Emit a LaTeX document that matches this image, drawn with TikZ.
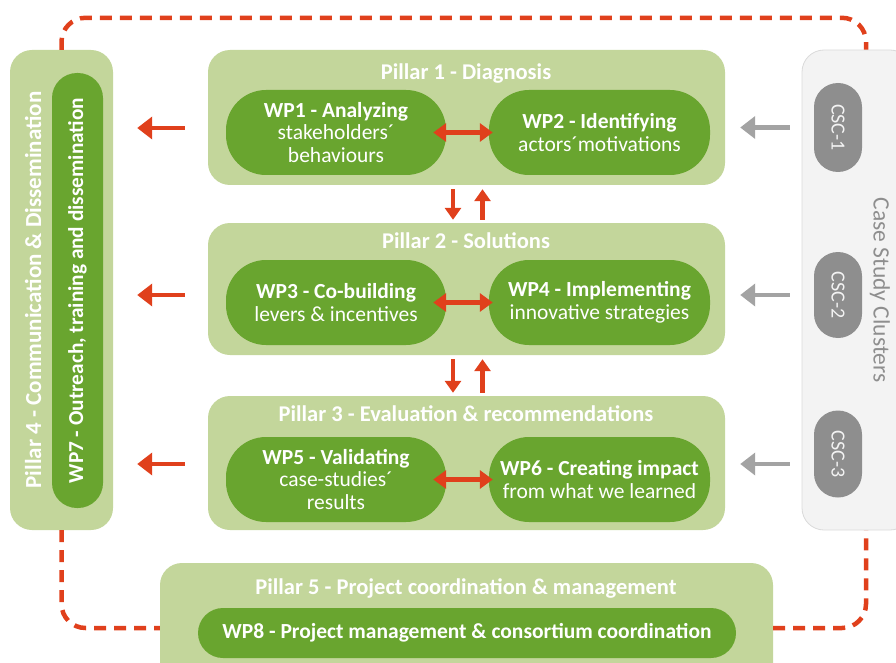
\documentclass[tikz,border=0pt]{standalone}
\usepackage{fontspec}
\setmainfont{Carlito}
\usetikzlibrary{arrows.meta,calc}

\definecolor{pillargreen}{HTML}{C3D69B}
\definecolor{wpgreen}{HTML}{69A52F}
\definecolor{linkred}{HTML}{E0401C}
\definecolor{cscgray}{HTML}{8E8E8E}
\definecolor{panelgray}{HTML}{F3F3F3}
\definecolor{panelline}{HTML}{DADADA}
\definecolor{arrowgray}{HTML}{A3A3A3}

\tikzset{
  pillarbox/.style={fill=pillargreen, rounded corners=22pt, inner sep=0pt},
  wpbox/.style={fill=wpgreen, rounded corners=40pt, inner sep=0pt, text=white,
    align=center, font=\fontsize{21.5}{22.8}\selectfont},
  wpslim/.style={fill=wpgreen, rounded corners=25pt, inner sep=0pt},
  pillartitle/.style={text=white, font=\bfseries\fontsize{22.5}{24}\selectfont, inner sep=0pt},
  cscpill/.style={fill=cscgray, rounded corners=24pt, minimum width=48pt, inner sep=0pt,
    text=panelgray, font=\fontsize{20}{22}\selectfont},
  redlink/.style={draw=linkred, line width=4.5pt, -{Triangle[length=15pt,width=22pt]}},
  redboth/.style={draw=linkred, line width=4.5pt,
    {Triangle[length=13pt,width=18pt]}-{Triangle[length=13pt,width=18pt]}},
  redvert/.style={draw=linkred, line width=4.5pt, -{Triangle[length=12pt,width=16pt]}},
  graylink/.style={draw=arrowgray, line width=4.5pt, -{Triangle[length=15pt,width=22pt]}},
  loopline/.style={draw=linkred, line width=4.5pt, dash pattern=on 12pt off 8pt,
    rounded corners=24pt},
}

\begin{document}
\begin{tikzpicture}[x=1pt,y=-1pt]
\useasboundingbox (0,0) rectangle (896,663);
\clip (0,0) rectangle (896,663);

% Pillar 4: communication column on the left
\node[pillarbox, minimum width=103pt, minimum height=480pt] (p4) at (61.5,290) {};
\node[wpslim, minimum width=51pt, minimum height=435pt] (wp7) at (77.5,290.5) {};
\node[pillartitle, rotate=90, font=\bfseries\fontsize{23}{24}\selectfont] (p4t) at (33,290)
  {Pillar 4 - Communication \& Dissemination};
\node[text=white, rotate=90, inner sep=0pt, font=\bfseries\fontsize{21.3}{22}\selectfont] (wp7t) at (wp7)
  {WP7 - Outreach, training and dissemination};

% Pillar 1
\node[pillarbox, minimum width=517pt, minimum height=135pt] (p1) at (466.5,117.5) {};
\node[pillartitle] (p1t) at (466,74) {Pillar 1 - Diagnosis};
\node[wpbox, minimum width=220pt, minimum height=85pt] (wp1) at (336,132.5)
  {\textbf{WP1 - Analyzing}\\stakeholders´\\behaviours};
\node[wpbox, minimum width=221pt, minimum height=85pt] (wp2) at (599.5,132.5)
  {\textbf{WP2 - Identifying}\\actors´motivations};

% Pillar 2
\node[pillarbox, minimum width=517pt, minimum height=132pt] (p2) at (466.5,289) {};
\node[pillartitle] (p2t) at (466,241) {Pillar 2 - Solutions};
\node[wpbox, minimum width=220pt, minimum height=85pt] (wp3) at (336,302.5)
  {\textbf{WP3 - Co-building}\\levers \& incentives};
\node[wpbox, minimum width=221pt, minimum height=85pt] (wp4) at (599.5,302.5)
  {\textbf{WP4 - Implementing}\\innovative strategies};

% Pillar 3
\node[pillarbox, minimum width=517pt, minimum height=134pt] (p3) at (466.5,463) {};
\node[pillartitle] (p3t) at (466,414) {Pillar 3 - Evaluation \& recommendations};
\node[wpbox, minimum width=220pt, minimum height=85pt] (wp5) at (336,479.5)
  {\textbf{WP5 - Validating}\\case-studies´\\results};
\node[wpbox, minimum width=221pt, minimum height=85pt] (wp6) at (599.5,479.5)
  {\textbf{WP6 - Creating impact}\\from what we learned};

% Pillar 5: coordination strip at the bottom
\node[pillarbox, minimum width=613pt, minimum height=130pt] (p5) at (466.5,628) {};
\node[pillartitle] (p5t) at (466,588) {Pillar 5 - Project coordination \& management};
\node[wpbox, rounded corners=25pt, minimum width=538pt, minimum height=50pt,
  font=\bfseries\fontsize{21.5}{22}\selectfont] (wp8) at (467,633)
  {WP8 - Project management \& consortium coordination};

% Case study clusters panel on the right
\node[fill=panelgray, draw=panelline, line width=0.8pt, rounded corners=22pt,
  minimum width=110pt, minimum height=480pt, inner sep=0pt] (csc) at (857,290) {};
\node[cscpill, minimum height=89pt] (csc1) at (838,127.5) {\rotatebox{-90}{CSC-1}};
\node[cscpill, minimum height=86pt] (csc2) at (838,295) {\rotatebox{-90}{CSC-2}};
\node[cscpill, minimum height=87pt] (csc3) at (838,454) {\rotatebox{-90}{CSC-3}};
\node[text=cscgray, rotate=-90, inner sep=0pt, font=\fontsize{23.5}{24}\selectfont] (csct)
  at (880,290) {Case Study Clusters};

% Feedback loop joining the outer pillars
\draw[loopline] (p4.north) -- ++(0,-32) -| ([xshift=9pt]csc.north);
\draw[loopline] (p4.south) |- (p5.west);
\draw[loopline] (p5.east) -| ([xshift=9pt]csc.south);

% Outputs towards communication
\draw[redlink] ([xshift=-23pt,yshift=-10.5pt]p1.west) -- ([xshift=24pt,yshift=-10.5pt]p1.west -| p4.east);
\draw[redlink] ([xshift=-23pt,yshift=-6pt]p2.west) -- ([xshift=24pt,yshift=-6pt]p2.west -| p4.east);
\draw[redlink] ([xshift=-23pt,yshift=-1pt]p3.west) -- ([xshift=24pt,yshift=-1pt]p3.west -| p4.east);

% Inputs from the case study clusters
\draw[graylink] ([xshift=-12pt,yshift=-10pt]p1.east -| csc.west) -- ([xshift=15pt,yshift=-10pt]p1.east);
\draw[graylink] ([xshift=-12pt,yshift=-6pt]p2.east -| csc.west) -- ([xshift=15pt,yshift=-6pt]p2.east);
\draw[graylink] ([xshift=-12pt,yshift=-1pt]p3.east -| csc.west) -- ([xshift=15pt,yshift=-1pt]p3.east);

% Exchanges between work packages
\draw[redboth] ([xshift=-13pt]wp1.east) -- ([xshift=4pt]wp2.west);
\draw[redboth] ([xshift=-13pt]wp3.east) -- ([xshift=4pt]wp4.west);
\draw[redboth] ([xshift=-13pt]wp5.east) -- ([xshift=4pt]wp6.west);

% Exchanges between pillars
\draw[redvert] ([xshift=-13.5pt,yshift=-4pt]p1.south) -- ([xshift=-13.5pt,yshift=3pt]p2.north);
\draw[redvert] ([xshift=16pt,yshift=3pt]p2.north) -- ([xshift=16pt,yshift=-4pt]p1.south);
\draw[redvert] ([xshift=-13.5pt,yshift=-4pt]p2.south) -- ([xshift=-13.5pt,yshift=3pt]p3.north);
\draw[redvert] ([xshift=16pt,yshift=3pt]p3.north) -- ([xshift=16pt,yshift=-4pt]p2.south);
\end{tikzpicture}
\end{document}
